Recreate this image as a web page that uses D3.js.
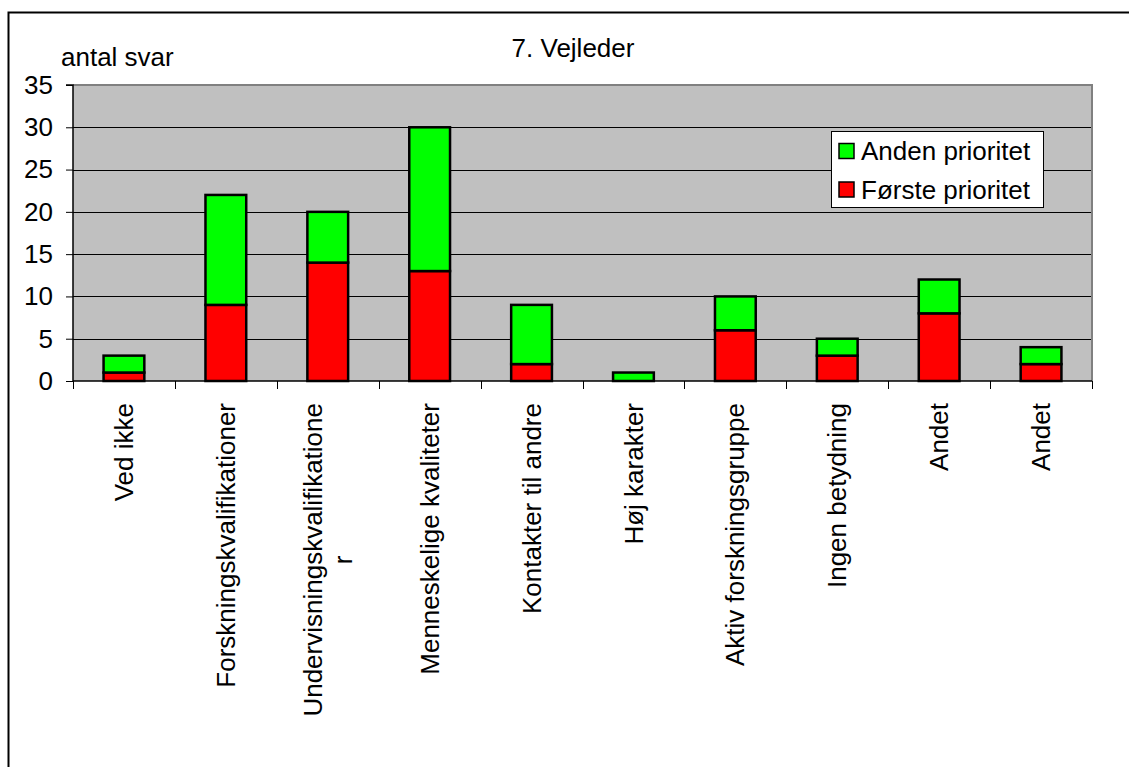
<!DOCTYPE html>
<html>
<head>
<meta charset="utf-8">
<script src="https://cdn.jsdelivr.net/npm/d3@7"></script>
<style>
  html, body { margin: 0; padding: 0; background: #fff; overflow: hidden; }
  svg { display: block; font-family: Arial, "Liberation Sans", sans-serif; }
</style>
</head>
<body>
<svg id="chart" width="1129" height="767"></svg>
<script>
// ---- data ----
const categories = [
  ["Ved ikke"],
  ["Forskningskvalifikationer"],
  ["Undervisningskvalifikatione", "r"],
  ["Menneskelige kvaliteter"],
  ["Kontakter til andre"],
  ["Høj karakter"],
  ["Aktiv forskningsgruppe"],
  ["Ingen betydning"],
  ["Andet"],
  ["Andet"]
];
const foersteValues = [1, 9, 14, 13, 2, 0, 6, 3, 8, 2];
const andenValues   = [2, 13, 6, 17, 7, 1, 4, 2, 4, 2];
const seriesNames = ["Første prioritet", "Anden prioritet"];
const yTicks = [0, 5, 10, 15, 20, 25, 30, 35];
const titleText = "7. Vejleder";
const yAxisTitle = "antal svar";

// ---- layout ----
const svg = d3.select("#chart");
const plot = { left: 73, right: 1092, top: 85, bottom: 381 };
const FONT = 26;

// outer frame (extends past the right/bottom edges like the reference)
svg.append("path")
  .attr("d", "M8.5,1129 V12.5 H1129")
  .attr("fill", "none").attr("stroke", "#000").attr("stroke-width", 2);

const idx = categories.map((d, i) => i);
const x = d3.scaleBand().domain(idx).range([plot.left, plot.right]).padding(0);
const y = d3.scaleLinear().domain([0, 35]).range([plot.bottom, plot.top]);

// plot area background
svg.append("rect")
  .attr("x", plot.left).attr("y", plot.top)
  .attr("width", plot.right - plot.left).attr("height", plot.bottom - plot.top)
  .attr("fill", "#c0c0c0");

// gridlines
svg.append("g").selectAll("line")
  .data(yTicks.filter(t => t > 0 && t < 35))
  .join("line")
  .attr("x1", plot.left).attr("x2", plot.right)
  .attr("y1", d => Math.round(y(d)) + 0.5).attr("y2", d => Math.round(y(d)) + 0.5)
  .attr("stroke", "#000").attr("stroke-width", 1);

// top & right shading border
svg.append("path")
  .attr("d", `M${plot.left},${plot.top} H${plot.right} V${plot.bottom}`)
  .attr("fill", "none").attr("stroke", "#808080").attr("stroke-width", 2);

// stacked bars
const stackData = idx.map(i => ({ i, f: foersteValues[i], a: andenValues[i] }));
const stack = d3.stack().keys(["f", "a"]);
const stacked = stack(stackData);
const colors = { f: "#ff0000", a: "#00ff00" };
const barW = x.bandwidth() * 0.4;

stacked.forEach(layer => {
  svg.append("g").selectAll("rect")
    .data(layer.filter(d => d[1] - d[0] > 0))
    .join("rect")
    .attr("x", d => x(d.data.i) + (x.bandwidth() - barW) / 2)
    .attr("width", barW)
    .attr("y", d => y(d[1]))
    .attr("height", d => y(d[0]) - y(d[1]))
    .attr("fill", colors[layer.key])
    .attr("stroke", "#000").attr("stroke-width", 2.5);
});

// y axis
const yAxis = d3.axisLeft(y).tickValues(yTicks).tickSize(7).tickPadding(13);
const gy = svg.append("g").attr("transform", `translate(${plot.left},0)`).call(yAxis);
gy.select(".domain").attr("stroke", "#000").attr("stroke-width", 1.5).attr("d", `M-7,${plot.top}H0V${plot.bottom}`);
gy.selectAll(".tick line").attr("stroke", "#000");
gy.selectAll("text").attr("font-size", FONT).attr("fill", "#000")
  .attr("font-family", "Arial, 'Liberation Sans', sans-serif");

// x axis line and ticks between categories
svg.append("line")
  .attr("x1", plot.left).attr("x2", plot.right)
  .attr("y1", plot.bottom).attr("y2", plot.bottom)
  .attr("stroke", "#000").attr("stroke-width", 1.5);
const bounds = idx.map(i => x(i)).concat([plot.right]);
svg.append("g").selectAll("line")
  .data(bounds)
  .join("line")
  .attr("x1", d => Math.round(d) + 0.5).attr("x2", d => Math.round(d) + 0.5)
  .attr("y1", plot.bottom).attr("y2", plot.bottom + 8)
  .attr("stroke", "#000").attr("stroke-width", 1);

// category labels (rotated)
const lineH = 30;
const labels = svg.append("g").selectAll("text")
  .data(idx)
  .join("text")
  .attr("transform", i => `translate(${x(i) + x.bandwidth() / 2},403) rotate(-90)`)
  .attr("font-size", FONT)
  .attr("fill", "#000")
  .each(function(i) {
    const lines = categories[i];
    const t = d3.select(this);
    const n = lines.length;
    const spans = lines.map((ln, k) => t.append("tspan")
        .attr("x", 0)
        .attr("y", (k - (n - 1) / 2) * lineH)
        .attr("dy", "0.35em")
        .attr("text-anchor", k === 0 ? "end" : "middle")
        .text(ln));
    if (n > 1) {
      const w = spans[0].node().getComputedTextLength();
      spans.slice(1).forEach(s => s.attr("x", -w / 2));
    }
  });

// title
svg.append("text")
  .attr("x", 573).attr("y", 57)
  .attr("text-anchor", "middle")
  .attr("font-size", FONT).attr("fill", "#000")
  .text(titleText);

// y axis title
svg.append("text")
  .attr("x", 61).attr("y", 66)
  .attr("font-size", FONT).attr("fill", "#000")
  .text(yAxisTitle);

// legend
const leg = svg.append("g");
leg.append("rect")
  .attr("x", 831.5).attr("y", 131.5)
  .attr("width", 212).attr("height", 76)
  .attr("fill", "#fff").attr("stroke", "#000").attr("stroke-width", 1);
const legendItems = [
  { name: seriesNames[1], color: colors.a },
  { name: seriesNames[0], color: colors.f }
];
legendItems.forEach((d, k) => {
  const cy = 151 + k * 38.5;
  leg.append("rect")
    .attr("x", 839).attr("y", cy - 7.5)
    .attr("width", 15).attr("height", 15)
    .attr("fill", d.color).attr("stroke", "#000").attr("stroke-width", 1.5);
  leg.append("text")
    .attr("x", 861).attr("y", cy).attr("dy", "0.35em")
    .attr("font-size", FONT).attr("fill", "#000")
    .text(d.name);
});
</script>
</body>
</html>
